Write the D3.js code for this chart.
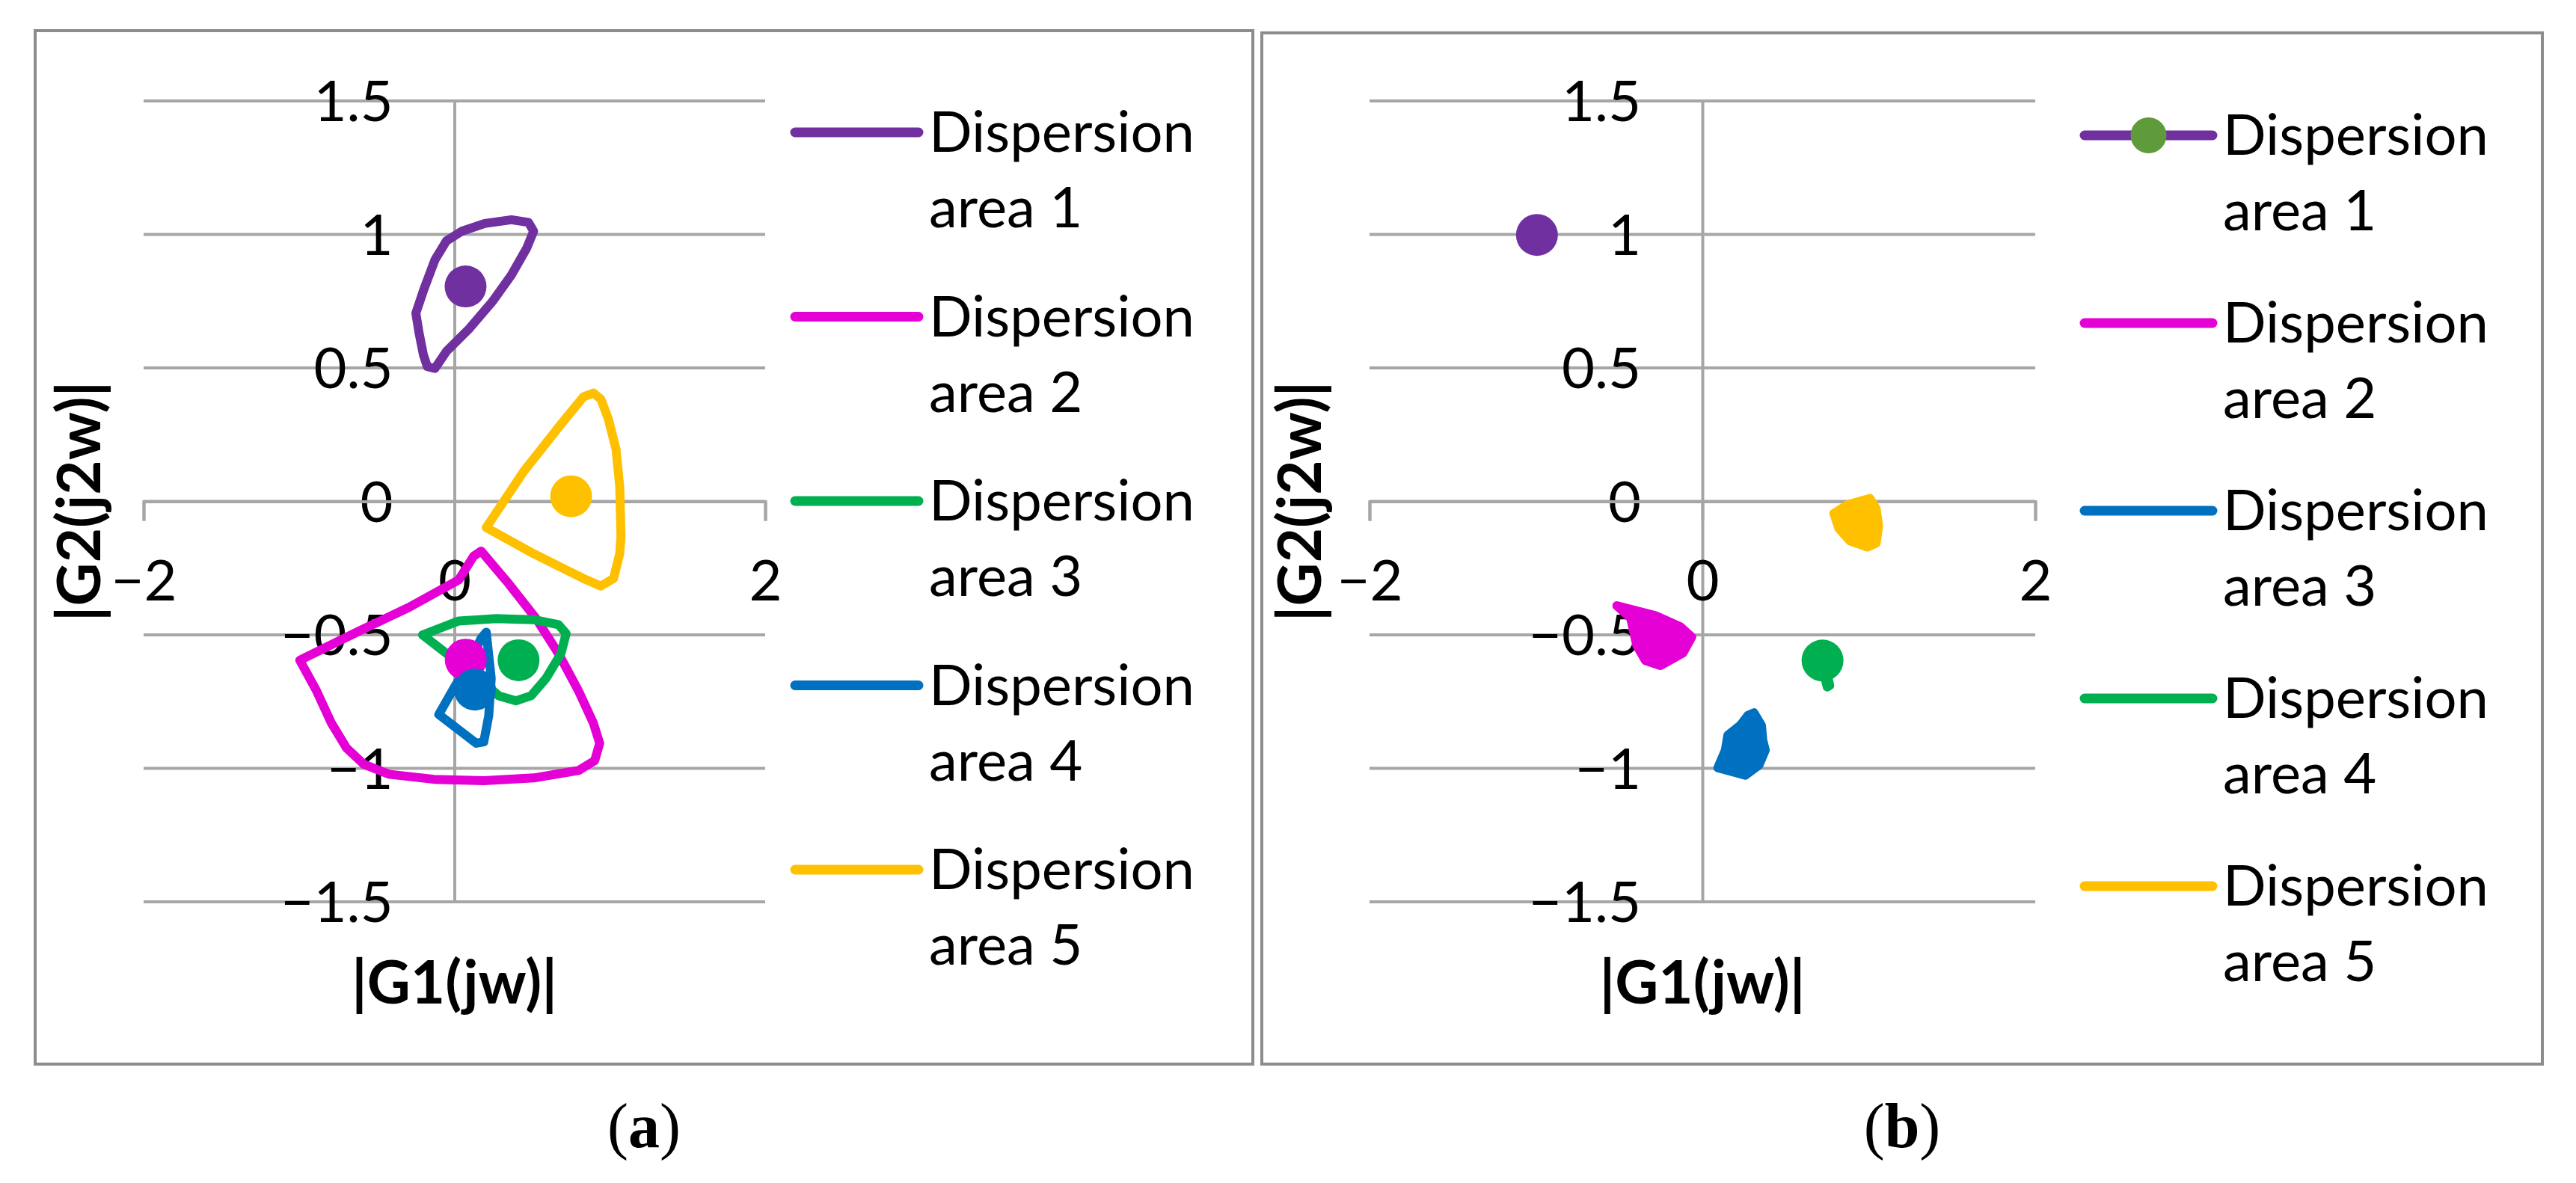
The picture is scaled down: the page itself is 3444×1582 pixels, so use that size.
<!DOCTYPE html>
<html>
<head>
<meta charset="utf-8">
<script src="https://cdn.jsdelivr.net/npm/d3@7"></script>
<style>
  html, body { margin: 0; padding: 0; background: #fff; }
  svg { display: block; }
</style>
</head>
<body>
<div id="chart"></div>
<script>
// ---- data ----
var xTicks = [-2, 0, 2];
var yTicks = [-1.5, -1, -0.5, 0, 0.5, 1, 1.5];
var seriesNames = ["Dispersion area 1", "Dispersion area 2", "Dispersion area 3", "Dispersion area 4", "Dispersion area 5"];
var xTitle = "|G1(jw)|";
var yTitle = "|G2(j2w)|";

// panel (a): dispersion contours, [G1, G2]
var aArea1 = [[-0.248, 0.705], [-0.199, 0.790], [-0.125, 0.905], [-0.051, 0.976], [0.047, 1.012], [0.195, 1.041],
    [0.367, 1.055], [0.477, 1.045], [0.510, 1.012], [0.465, 0.948], [0.367, 0.848], [0.244, 0.748], [0.097, 0.648],
    [-0.051, 0.562], [-0.125, 0.498], [-0.174, 0.505], [-0.199, 0.548], [-0.228, 0.633]];
var aArea2 = [[0.172, -0.186], [0.349, -0.308], [0.526, -0.439], [0.670, -0.570], [0.799, -0.710], [0.895, -0.831],
    [0.935, -0.906], [0.903, -0.971], [0.799, -1.008], [0.510, -1.036], [0.189, -1.046], [-0.132, -1.041],
    [-0.421, -1.022], [-0.582, -0.985], [-0.694, -0.924], [-0.791, -0.831], [-0.887, -0.710], [-0.995, -0.595],
    [-0.614, -0.486], [-0.293, -0.397], [0.028, -0.294], [0.124, -0.205]];
var aArea3 = [[-0.205, -0.500], [0.028, -0.448], [0.269, -0.439], [0.510, -0.443], [0.670, -0.462], [0.719, -0.495],
    [0.686, -0.570], [0.590, -0.663], [0.494, -0.728], [0.397, -0.747], [0.285, -0.728], [0.150, -0.660], [-0.050, -0.570]];
var aArea4 = [[0.205, -0.490], [0.237, -0.663], [0.221, -0.803], [0.189, -0.901], [0.141, -0.906], [-0.100, -0.798],
    [-0.004, -0.700], [0.100, -0.600], [0.172, -0.513]];
var aArea5 = [[0.205, -0.098], [0.446, 0.112], [0.686, 0.289], [0.831, 0.392], [0.895, 0.406], [0.943, 0.383],
    [0.991, 0.308], [1.040, 0.196], [1.064, 0.056], [1.072, -0.131], [1.064, -0.196], [1.024, -0.289],
    [0.943, -0.317], [0.831, -0.289], [0.510, -0.196]];
var aCentres = [[0.072, 0.805], [0.073, -0.593], [0.413, -0.595], [0.132, -0.705], [0.751, 0.019]];

// panel (b)
var bArea2 = [[-0.514, -0.391], [-0.282, -0.428], [-0.132, -0.470], [-0.064, -0.508], [-0.117, -0.568],
    [-0.252, -0.615], [-0.342, -0.596], [-0.394, -0.540], [-0.431, -0.437]];
var bArea3 = [[0.310, -0.792], [0.355, -0.839], [0.363, -0.895], [0.378, -0.932], [0.340, -0.988], [0.258, -1.026],
    [0.093, -0.998], [0.138, -0.932], [0.153, -0.876], [0.228, -0.839], [0.273, -0.802]];
var bArea4 = [[0.700, -0.600], [0.745, -0.630], [0.765, -0.690], [0.750, -0.695], [0.720, -0.620]];
var bArea5 = [[0.790, -0.045], [0.872, -0.013], [1.007, 0.011], [1.044, -0.027], [1.059, -0.092], [1.044, -0.157],
    [0.992, -0.171], [0.887, -0.148], [0.820, -0.101]];
var bCentres = [[-0.994, 0.998], [0.722, -0.596]];

// ---- style ----
var purple = "#7030A0", magenta = "#E500D5", green = "#00B050", blue = "#0070C0", gold = "#FFC000";
var markerGreen = "#5F9A3B";
var gridColor = "#a6a6a6", frameColor = "#8c8c8c";
var font = "Lato, 'Open Sans', sans-serif";
var fontSize = 76;

var svg = d3.select("#chart").append("svg")
    .attr("width", 3444)
    .attr("height", 1582);

var line = d3.line()
    .x(d => d.sx)
    .y(d => d.sy)
    .curve(d3.curveLinearClosed);

function drawPanel(p) {
    var g = svg.append("g");

    // frame
    g.append("rect")
        .attr("x", p.frame[0]).attr("y", p.frame[1])
        .attr("width", p.frame[2] - p.frame[0]).attr("height", p.frame[3] - p.frame[1])
        .attr("fill", "none").attr("stroke", frameColor).attr("stroke-width", 4);

    var x = d3.scaleLinear().domain([-2, 2]).range(p.xRange);
    var y = d3.scaleLinear().domain([-1.5, 1.5]).range([1206, 135]);

    // horizontal gridlines
    g.selectAll(".grid").data(yTicks).enter().append("line")
        .attr("x1", x(-2)).attr("x2", x(2))
        .attr("y1", d => y(d)).attr("y2", d => y(d))
        .attr("stroke", gridColor).attr("stroke-width", 4);

    // y axis along x = 0
    var yAxis = g.append("g")
        .attr("transform", "translate(" + x(0) + ",0)")
        .call(d3.axisLeft(y).tickValues(yTicks).tickSize(0).tickPadding(82)
            .tickFormat(d => d3.format("")(d).replace("-", "\u2212")));
    yAxis.select(".domain").attr("stroke", gridColor).attr("stroke-width", 4);
    yAxis.selectAll("text")
        .attr("font-family", font).attr("font-size", fontSize).attr("fill", "#000")
        .attr("dy", "0.35em");

    // x axis along y = 0
    var xAxis = g.append("g")
        .attr("transform", "translate(0," + y(0) + ")")
        .call(d3.axisBottom(x).tickValues(xTicks).tickSize(26).tickSizeOuter(26)
            .tickFormat(d => d3.format("")(d).replace("-", "\u2212")));
    xAxis.select(".domain").attr("stroke", gridColor).attr("stroke-width", 4);
    xAxis.selectAll("line").attr("stroke", gridColor).attr("stroke-width", 4);
    xAxis.selectAll("text")
        .attr("font-family", font).attr("font-size", fontSize).attr("fill", "#000")
        .attr("y", 106).attr("dy", "0.35em");

    // axis titles
    g.append("text")
        .attr("x", x(0)).attr("y", 1342)
        .attr("text-anchor", "middle")
        .attr("font-family", font).attr("font-weight", "bold").attr("font-size", 80)
        .text(xTitle);
    g.append("text")
        .attr("transform", "translate(" + p.yTitleX + "," + y(0) + ") rotate(-90)")
        .attr("text-anchor", "middle")
        .attr("font-family", font).attr("font-weight", "bold").attr("font-size", 80)
        .text(yTitle);

    // dispersion contours
    p.areas.forEach(function (a) {
        var pts = a.data.map(d => ({ sx: x(d[0]), sy: y(d[1]) }));
        g.append("path")
            .datum(pts)
            .attr("d", line)
            .attr("fill", a.filled ? a.color : "none")
            .attr("stroke", a.color)
            .attr("stroke-width", 12)
            .attr("stroke-linejoin", "round");
    });

    // centre points
    g.selectAll(".centre").data(p.centres).enter().append("circle")
        .attr("cx", (d, i) => x(d[0]))
        .attr("cy", (d, i) => y(d[1]))
        .attr("r", 28)
        .attr("fill", (d, i) => p.centreColors[i]);

    // legend
    var leg = g.selectAll(".legend").data(p.legend).enter().append("g")
        .attr("transform", (d, i) => "translate(0," + (p.legendY + i * p.legendStep) + ")");
    leg.append("line")
        .attr("x1", p.legendX[0]).attr("x2", p.legendX[1])
        .attr("y1", 0).attr("y2", 0)
        .attr("stroke", d => d.color).attr("stroke-width", 13).attr("stroke-linecap", "round");
    leg.filter(d => d.marker).append("circle")
        .attr("cx", (p.legendX[0] + p.legendX[1]) / 2).attr("cy", 0).attr("r", 24)
        .attr("fill", d => d.marker);
    var lt = leg.append("text")
        .attr("x", p.legendX[1] + 14)
        .attr("font-family", font).attr("font-size", fontSize).attr("fill", "#000");
    lt.append("tspan").attr("x", p.legendX[1] + 14).attr("y", 26).text(d => d.name.split(" ")[0]);
    lt.append("tspan").attr("x", p.legendX[1] + 14).attr("y", 127).text(d => d.name.split(" ").slice(1).join(" "));

    // caption
    var cap = g.append("text")
        .attr("x", (p.frame[0] + p.frame[2]) / 2).attr("y", 1534)
        .attr("text-anchor", "middle")
        .attr("font-family", "'Liberation Serif', serif").attr("font-size", 84);
    cap.append("tspan").text("(");
    cap.append("tspan").attr("font-weight", "bold").text(p.caption);
    cap.append("tspan").text(")");
}

drawPanel({
    frame: [47, 41, 1675, 1423],
    xRange: [192, 1023],
    yTitleX: 134,
    areas: [
        { data: aArea1, color: purple },
        { data: aArea2, color: magenta },
        { data: aArea3, color: green },
        { data: aArea4, color: blue },
        { data: aArea5, color: gold }
    ],
    centres: aCentres,
    centreColors: [purple, magenta, green, blue, gold],
    legend: [
        { name: seriesNames[0], color: purple },
        { name: seriesNames[1], color: magenta },
        { name: seriesNames[2], color: green },
        { name: seriesNames[3], color: blue },
        { name: seriesNames[4], color: gold }
    ],
    legendX: [1063, 1228],
    legendY: 177,
    legendStep: 246.5,
    caption: "a"
});

drawPanel({
    frame: [1687, 44, 3399, 1423],
    xRange: [1831, 2721],
    yTitleX: 1766,
    areas: [
        { data: bArea2, color: magenta, filled: true },
        { data: bArea3, color: blue, filled: true },
        { data: bArea4, color: green, filled: true },
        { data: bArea5, color: gold, filled: true }
    ],
    centres: bCentres,
    centreColors: [purple, green],
    legend: [
        { name: seriesNames[0], color: purple, marker: markerGreen },
        { name: seriesNames[1], color: magenta },
        { name: seriesNames[2], color: blue },
        { name: seriesNames[3], color: green },
        { name: seriesNames[4], color: gold }
    ],
    legendX: [2787, 2958],
    legendY: 181,
    legendStep: 251,
    caption: "b"
});
</script>
</body>
</html>
